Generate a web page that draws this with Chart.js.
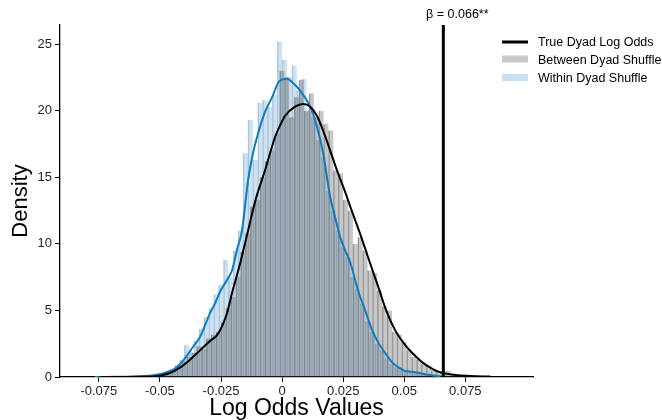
<!DOCTYPE html>
<html>
<head>
<meta charset="utf-8">
<script src="https://cdn.jsdelivr.net/npm/chart.js@4.4.1/dist/chart.umd.min.js"></script>
<style>
  html, body { margin: 0; padding: 0; background: #fff; }
  #wrap { width: 662px; height: 420px; position: relative; }
</style>
</head>
<body>
<div id="wrap"><canvas id="c" width="662" height="420"></canvas></div>
<script>
// ---------- data ----------
const xTickValues = [-0.075, -0.05, -0.025, 0, 0.025, 0.05, 0.075];
const xTickLabels = ['-0.075', '-0.05', '-0.025', '0', '0.025', '0.05', '0.075'];
const yTickValues = [0, 5, 10, 15, 20, 25];

const trueDyadLogOdds = 0.066;
const trueDyadLabel = 'β = 0.066**';

// Between Dyad Shuffle histogram (grey), bin centres and densities
const betweenBins = [-0.054,-0.052,-0.050,-0.048,-0.046,-0.044,-0.042,-0.040,-0.038,-0.036,
  -0.034,-0.032,-0.030,-0.028,-0.026,-0.024,-0.022,-0.020,-0.018,-0.016,
  -0.014,-0.012,-0.010,-0.008,-0.006,-0.004,-0.002,0.000,0.002,0.004,
  0.006,0.008,0.010,0.012,0.014,0.016,0.018,0.020,0.022,0.024,
  0.026,0.028,0.030,0.032,0.034,0.036,0.038,0.040,0.042,0.044,
  0.046,0.048,0.050,0.052,0.054,0.056,0.058,0.060,0.062,0.064,
  0.066,0.068,0.070,0.072,0.074,0.076,0.078,0.080];
const betweenDensity = [0.1,0.15,0.2,0.3,0.45,0.6,0.9,1.2,1.5,1.8,
  2.3,2.1,2.9,3.2,3.4,4.1,5.2,6.0,7.5,9.4,
  10.8,12.8,13.3,15.0,16.2,17.0,18.3,23.0,22.5,19.5,
  21.0,22.3,20.0,21.3,19.5,20.0,19.0,18.5,15.5,15.3,
  13.3,12.5,10.0,10.5,9.5,8.0,7.8,6.5,5.3,5.0,
  3.4,3.2,2.6,2.0,1.5,1.3,1.0,0.8,0.5,0.4,
  0.3,0.45,0.2,0.1,0.1,0.05,0.03,0.05];

// Within Dyad Shuffle histogram (light blue)
const withinBins = [-0.057,-0.055,-0.053,-0.051,-0.049,-0.047,-0.045,-0.043,-0.041,-0.039,
  -0.037,-0.035,-0.033,-0.031,-0.029,-0.027,-0.025,-0.023,-0.021,-0.019,
  -0.017,-0.015,-0.013,-0.011,-0.009,-0.007,-0.005,-0.003,-0.001,0.001,
  0.003,0.005,0.007,0.009,0.011,0.013,0.015,0.017,0.019,0.021,
  0.023,0.025,0.027,0.029,0.031,0.033,0.035,0.037,0.039,0.041,
  0.043,0.045,0.047,0.049,0.051,0.053,0.055,0.057,0.059,0.061];
const withinDensity = [0.05,0.1,0.15,0.2,0.3,0.45,0.6,0.9,1.3,2.4,
  1.9,2.7,3.6,4.5,5.2,6.2,6.9,8.8,7.5,9.5,
  11.0,16.8,19.3,16.3,20.6,20.8,20.3,21.2,25.2,23.8,
  22.5,23.4,21.5,22.4,20.0,19.5,17.8,16.5,14.0,12.5,
  11.0,9.8,9.0,7.5,6.6,5.5,4.2,3.4,2.5,2.0,
  1.4,1.0,0.8,0.6,0.5,0.4,0.35,0.25,0.15,0.1];

// KDE curves
const betweenKdeX = [-0.0746,-0.0582,-0.050,-0.0459,-0.0418,-0.0377,-0.0336,-0.0295,-0.0266,-0.0246,
  -0.0225,-0.0205,-0.0172,-0.0139,-0.0107,-0.0070,-0.0029,-0.0008,0.0012,0.0053,
  0.0086,0.0115,0.0143,0.0168,0.0197,0.0225,0.0258,0.0279,0.0328,0.0361,
  0.0393,0.0426,0.0463,0.0504,0.0533,0.0574,0.0607,0.0639,0.0709,0.0770,0.0852];
const betweenKdeY = [0.0,0.02,0.1,0.3,0.7,1.3,2.0,2.7,3.15,3.8,
  4.8,6.3,8.5,11.0,13.4,15.5,18.0,18.9,19.6,20.3,
  20.5,20.3,19.6,18.5,17.0,15.5,13.9,12.8,10.3,8.5,
  6.8,5.0,3.5,2.4,1.8,1.1,0.7,0.4,0.15,0.08,0.03];

const withinKdeX = [-0.0766,-0.0664,-0.0582,-0.052,-0.048,-0.043,-0.0398,-0.0365,-0.0336,-0.0295,
  -0.0275,-0.0254,-0.0225,-0.0205,-0.0184,-0.0164,-0.0139,-0.0119,-0.0098,-0.0070,
  -0.0041,-0.0012,0.0020,0.0049,0.0074,0.0115,0.0143,0.0168,0.0197,0.0217,
  0.0238,0.0258,0.0279,0.0311,0.0340,0.0369,0.0393,0.0422,0.0451,0.0475,
  0.0504,0.0533,0.0574,0.0607,0.0648];
const withinKdeY = [0.0,0.02,0.05,0.15,0.3,0.75,1.4,2.25,3.0,4.8,
  5.5,6.4,7.3,8.0,9.6,11.0,14.8,16.8,18.3,19.9,
  21.0,22.2,22.4,22.0,21.5,20.3,18.8,16.8,13.5,12.0,
  10.5,9.5,8.6,6.5,5.0,3.5,2.6,1.8,1.1,0.75,
  0.45,0.4,0.25,0.15,0.05];

// ---------- build chart ----------
const X_MIN = -0.0909, X_MAX = 0.1027, Y_MAX = 26.43;
const FONT = '"Liberation Sans", Arial, Helvetica, sans-serif';
Chart.defaults.font.family = FONT;
Chart.defaults.color = '#222';

const zip = (xs, ys) => xs.map((x, i) => ({ x: x, y: ys[i] }));

const colors = {
  line: '#000000',
  greyFill: 'rgba(100,100,100,0.36)',
  greyEdge: 'rgba(70,70,70,0.5)',
  blueFill: 'rgba(60,140,200,0.26)',
  blueEdge: 'rgba(60,120,170,0.35)',
  blueLine: '#0d7bbf',
  greyLegend: 'rgba(200,200,200,1)',
  blueLegend: 'rgba(200,224,240,1)'
};

const overlayPlugin = {
  id: 'overlay',
  afterDraw(chart) {
    const ctx = chart.ctx;
    const xs = chart.scales.x;
    ctx.save();
    // annotation text
    ctx.font = '12.5px ' + FONT;
    ctx.fillStyle = '#000';
    ctx.textAlign = 'center';
    ctx.textBaseline = 'middle';
    ctx.fillText(trueDyadLabel, xs.getPixelForValue(trueDyadLogOdds) + 14, 15);
    // legend
    const lx = 502, sw = 26, tx = 538;
    ctx.strokeStyle = '#000';
    ctx.lineWidth = 3;
    ctx.beginPath(); ctx.moveTo(lx, 42); ctx.lineTo(lx + sw, 42); ctx.stroke();
    ctx.fillStyle = colors.greyLegend;
    ctx.fillRect(lx, 55.5, sw, 7);
    ctx.fillStyle = colors.blueLegend;
    ctx.fillRect(lx, 74, sw, 7);
    ctx.fillStyle = '#000';
    ctx.textAlign = 'left';
    ctx.fillText('True Dyad Log Odds', tx, 42.5);
    ctx.fillText('Between Dyad Shuffle', tx, 60.5);
    ctx.fillText('Within Dyad Shuffle', tx, 79);
    ctx.restore();
  }
};

new Chart(document.getElementById('c'), {
  data: {
    datasets: [
      {
        type: 'line', label: 'True Dyad Log Odds',
        data: [{ x: trueDyadLogOdds, y: 0 }, { x: trueDyadLogOdds, y: Y_MAX }],
        borderColor: colors.line, borderWidth: 3, pointRadius: 0, order: 0, xAxisID: 'x'
      },
      {
        type: 'line', label: 'Between KDE',
        data: zip(betweenKdeX, betweenKdeY),
        borderColor: '#000', borderWidth: 2, pointRadius: 0,
        cubicInterpolationMode: 'monotone', order: 0, xAxisID: 'x'
      },
      {
        type: 'line', label: 'Within KDE',
        data: zip(withinKdeX, withinKdeY),
        borderColor: colors.blueLine, borderWidth: 2, pointRadius: 0,
        cubicInterpolationMode: 'monotone', order: 0, xAxisID: 'x'
      },
      {
        type: 'bar', label: 'Between Dyad Shuffle',
        data: zip(betweenBins, betweenDensity),
        backgroundColor: colors.greyFill, borderColor: colors.greyEdge,
        borderWidth: { left: 0.8, right: 0, top: 0, bottom: 0 }, borderSkipped: false,
        barPercentage: 1, categoryPercentage: 1, grouped: false, order: 1, xAxisID: 'x'
      },
      {
        type: 'bar', label: 'Within Dyad Shuffle',
        data: zip(withinBins, withinDensity),
        backgroundColor: colors.blueFill, borderColor: colors.blueEdge,
        borderWidth: { left: 0.8, right: 0, top: 0, bottom: 0 }, borderSkipped: false,
        barPercentage: 1, categoryPercentage: 1, grouped: false, order: 2, xAxisID: 'x2'
      }
    ]
  },
  options: {
    responsive: false,
    animation: false,
    events: [],
    layout: { padding: { left: 0, right: 129, top: 25, bottom: 0 } },
    plugins: { legend: { display: false }, tooltip: { enabled: false } },
    scales: {
      x: {
        type: 'linear', min: X_MIN, max: X_MAX, offset: false,
        afterBuildTicks: (s) => { s.ticks = xTickValues.map(v => ({ value: v })); },
        afterFit: (s) => { s.height = 43; },
        ticks: {
          font: { size: 13 }, color: '#222', padding: 2, maxRotation: 0, autoSkip: false,
          callback: (v) => { const i = xTickValues.indexOf(v); return i >= 0 ? xTickLabels[i] : ''; }
        },
        grid: { offset: false, drawOnChartArea: false, drawTicks: true, tickLength: 5, color: '#000', tickColor: '#000', lineWidth: 1 },
        border: { display: true, color: '#000', width: 1.3 },
        title: { display: true, text: 'Log Odds Values', font: { size: 23, lineHeight: 1.0 }, color: '#000', padding: { top: 0, bottom: 0 } }
      },
      x2: {
        type: 'linear', min: X_MIN, max: X_MAX, offset: false, display: false,
        grid: { offset: false }
      },
      y: {
        type: 'linear', min: 0, max: Y_MAX,
        afterBuildTicks: (s) => { s.ticks = yTickValues.map(v => ({ value: v })); },
        afterFit: (s) => { s.width = 60; },
        ticks: { font: { size: 13 }, color: '#222', padding: 3 },
        grid: { drawOnChartArea: false, drawTicks: true, tickLength: 5, color: '#000', tickColor: '#000', lineWidth: 1 },
        border: { display: true, color: '#000', width: 1.3 },
        title: { display: true, text: 'Density', font: { size: 22 }, color: '#000', padding: { top: 8, bottom: 0 } }
      }
    }
  },
  plugins: [overlayPlugin]
});
</script>
</body>
</html>
